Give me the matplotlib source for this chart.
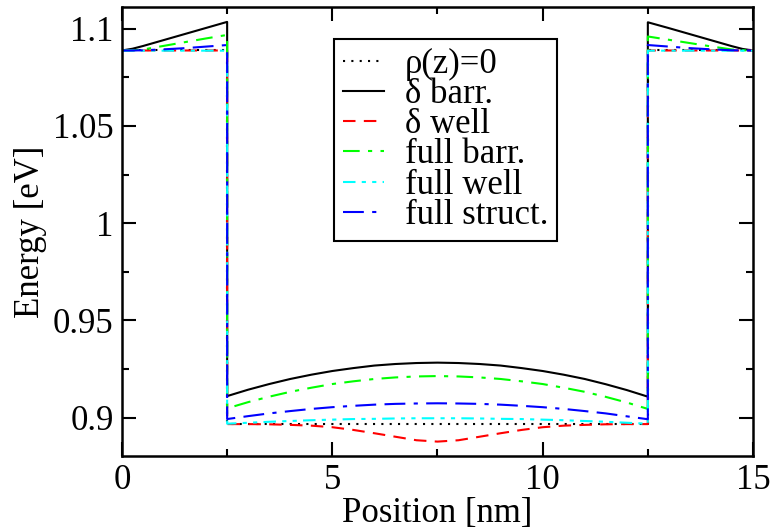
import numpy as np
import matplotlib.pyplot as plt
from matplotlib.ticker import FixedLocator, MultipleLocator

plt.rcParams['font.family'] = ['Liberation Serif', 'DejaVu Serif']
plt.rcParams['font.size'] = 25

# positions (nm): left barrier, well, right barrier
x_left = [0, 0.25, 0.5, 1.0, 1.5, 2.0, 2.5]
x_well = [2.5, 3.0, 3.5, 4.0, 4.5, 5.0, 5.5, 6.0, 6.5, 7.0, 7.5,
          8.0, 8.5, 9.0, 9.5, 10.0, 10.5, 11.0, 11.5, 12.0, 12.5]
x_right = [12.5, 13.0, 13.5, 14.0, 14.5, 14.75, 15]

# energies (eV)
rho0_left = [1.0888, 1.0888, 1.0888, 1.0888, 1.0888, 1.0888, 1.0888]
rho0_well = [0.8967] * 21
rho0_right = [1.0888, 1.0888, 1.0888, 1.0888, 1.0888, 1.0888, 1.0888]

dbarr_left = [1.0888, 1.0897, 1.0911, 1.0942, 1.0973, 1.1004, 1.1035]
dbarr_well = [0.9111, 0.9144, 0.9173, 0.9199, 0.9221, 0.9240, 0.9255, 0.9268, 0.9276, 0.9281, 0.9283,
              0.9281, 0.9276, 0.9268, 0.9255, 0.9240, 0.9221, 0.9199, 0.9172, 0.9142, 0.9108]
dbarr_right = [1.1033, 1.1003, 1.0972, 1.0941, 1.0910, 1.0896, 1.0888]

dwell_left = [1.0888, 1.0888, 1.0888, 1.0888, 1.0888, 1.0888, 1.0888]
dwell_well = [0.8967, 0.8967, 0.8966, 0.8963, 0.8959, 0.8951, 0.8937, 0.8920, 0.8902, 0.8884, 0.8877,
              0.8884, 0.8902, 0.8920, 0.8937, 0.8951, 0.8959, 0.8963, 0.8966, 0.8967, 0.8967]
dwell_right = [1.0888, 1.0888, 1.0888, 1.0888, 1.0888, 1.0888, 1.0888]

fbarr_left = [1.0888, 1.0889, 1.0893, 1.0912, 1.0931, 1.0950, 1.0968]
fbarr_well = [0.9048, 0.9080, 0.9108, 0.9133, 0.9154, 0.9173, 0.9187, 0.9199, 0.9207, 0.9212, 0.9214,
              0.9212, 0.9207, 0.9199, 0.9187, 0.9173, 0.9154, 0.9133, 0.9107, 0.9078, 0.9045]
fbarr_right = [1.0960, 1.0943, 1.0926, 1.0909, 1.0893, 1.0889, 1.0888]

fwell_left = [1.0887, 1.0887, 1.0887, 1.0887, 1.0887, 1.0887, 1.0887]
fwell_well = [0.8969, 0.8974, 0.8979, 0.8983, 0.8987, 0.8990, 0.8993, 0.8994, 0.8996, 0.8997, 0.8997,
              0.8997, 0.8996, 0.8994, 0.8993, 0.8990, 0.8987, 0.8983, 0.8979, 0.8974, 0.8969]
fwell_right = [1.0887, 1.0887, 1.0887, 1.0887, 1.0887, 1.0887, 1.0887]

fstruct_left = [1.0888, 1.0888, 1.0889, 1.0894, 1.0900, 1.0908, 1.0916]
fstruct_well = [0.8993, 0.9008, 0.9022, 0.9034, 0.9045, 0.9054, 0.9061, 0.9067, 0.9071, 0.9073, 0.9074,
                0.9073, 0.9071, 0.9067, 0.9061, 0.9054, 0.9045, 0.9034, 0.9022, 0.9007, 0.8992]
fstruct_right = [1.0916, 1.0908, 1.0900, 1.0894, 1.0889, 1.0888, 1.0888]

labels = ['ρ(z)=0', 'δ barr.', 'δ well', 'full barr.', 'full well', 'full struct.']
colors = ['black', 'black', '#ff0000', '#00ff00', '#00ffff', '#0000ff']
styles = [(0, (1, 3)), '-', (0, (6, 4)), (0, (8, 4, 2, 4)), (0, (6, 3, 2, 3, 2, 3)), (0, (10, 4, 2, 4, 10, 4))]
series = [(rho0_left, rho0_well, rho0_right),
          (dbarr_left, dbarr_well, dbarr_right),
          (dwell_left, dwell_well, dwell_right),
          (fbarr_left, fbarr_well, fbarr_right),
          (fwell_left, fwell_well, fwell_right),
          (fstruct_left, fstruct_well, fstruct_right)]

x_all = x_left + x_well + x_right

fig = plt.figure(figsize=(7.72, 5.29), dpi=100)
ax = fig.add_axes([0.158, 0.138, 0.8174, 0.8493])

for (l, w, r), lab, c, ls in zip(series, labels, colors, styles):
    ax.plot(x_all, l + w + r, color=c, linestyle=ls, linewidth=1.5, label=lab)

ax.set_xlim(0, 15)
ax.set_ylim(0.8803, 1.1113)
ax.xaxis.set_major_locator(FixedLocator([0, 5, 10, 15]))
ax.xaxis.set_minor_locator(MultipleLocator(2.5))
ax.yaxis.set_major_locator(FixedLocator([0.9, 0.95, 1.0, 1.05, 1.1]))
ax.yaxis.set_minor_locator(MultipleLocator(0.025))
ax.set_xticklabels(['0', '5', '10', '15'])
ax.set_yticklabels(['0.9', '0.95', '1', '1.05', '1.1'])
ax.tick_params(which='both', direction='in', top=True, right=True, width=1.5)
ax.tick_params(which='major', length=10, pad=6)
ax.tick_params(which='minor', length=5)
for s in ax.spines.values():
    s.set_linewidth(1.8)

ax.set_xlabel('Position [nm]', labelpad=0)
ax.set_ylabel('Energy [eV]', labelpad=4)

leg = ax.legend(loc='upper left', bbox_to_anchor=(0.336, 0.928), borderaxespad=0,
                fancybox=False, framealpha=1, edgecolor='black', labelspacing=-0.08,
                handlelength=1.2, handletextpad=0.6, borderpad=0.25)
leg.get_frame().set_linewidth(1.5)

fig.savefig('out.png', dpi=100)
